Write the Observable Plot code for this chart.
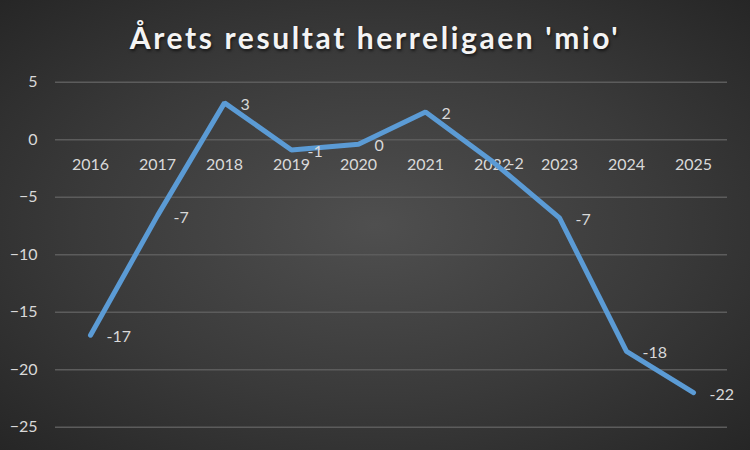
<!DOCTYPE html>
<html>
<head>
<meta charset="utf-8">
<script src="https://cdn.jsdelivr.net/npm/d3@7"></script>
<script src="https://cdn.jsdelivr.net/npm/@observablehq/plot@0.6"></script>
<style>
  html, body { margin: 0; padding: 0; }
  #chart {
    position: relative; width: 750px; height: 450px; overflow: hidden;
    background: radial-gradient(ellipse farthest-corner at 50% 50%, #4f4f4f 0%, #3a3a3a 55%, #262626 100%);
  }
  #title {
    height: 70px; line-height: 74px; text-align: center;
    font-family: Lato, "Open Sans", sans-serif; font-weight: bold; font-size: 30px;
    letter-spacing: 2.6px; color: #f4f4f4;
    text-shadow: 1px 2px 3px rgba(0,0,0,0.6);
  }
  svg { display: block; }
</style>
</head>
<body>
<div id="chart"><div id="title">Årets resultat herreligaen 'mio'</div></div>
<script>
const years = ["2016", "2017", "2018", "2019", "2020", "2021", "2022", "2023", "2024", "2025"];
const values = [-17.0, -6.6, 3.2, -0.9, -0.4, 2.4, -1.9, -6.8, -18.4, -22.0];
const yTicks = [5, 0, -5, -10, -15, -20, -25];

const data = years.map((y, i) => ({year: y, value: values[i]}));
const fmt = v => String(Math.round(v) === 0 ? 0 : Math.round(v));

const plot = Plot.plot({
  width: 750,
  height: 380,
  marginTop: 11.7,
  marginBottom: 23.3,
  marginLeft: 55,
  marginRight: 23,
  x: {type: "point", domain: years, padding: 0.5, axis: null},
  y: {domain: [-25, 5], axis: null},
  style: {background: "transparent", color: "#d9d9d9", fontFamily: "Lato, 'Open Sans', sans-serif", fontSize: "16px"},
  marks: [
    Plot.gridY(yTicks, {stroke: "#5c5c5c", strokeOpacity: 1, strokeWidth: 1.4}),
    Plot.axisY(yTicks, {tickSize: 0, tickPadding: 18, fill: "#d9d9d9", fontSize: 16, label: null}),
    Plot.text(data, {x: "year", y: d => 0, text: "year", dy: 25, fill: "#d9d9d9", fontSize: 16}),
    Plot.line(data, {x: "year", y: "value", stroke: "#5b9bd5", strokeWidth: 5, strokeLinecap: "round", strokeLinejoin: "miter", style: "filter: drop-shadow(1px 2px 2px rgba(0,0,0,0.45))"}),
    Plot.text(data, {x: "year", y: "value", text: d => fmt(d.value), dx: 16, dy: 2, textAnchor: "start", fill: "#d9d9d9", fontSize: 16})
  ]
});
document.getElementById("chart").appendChild(plot);
</script>
</body>
</html>
